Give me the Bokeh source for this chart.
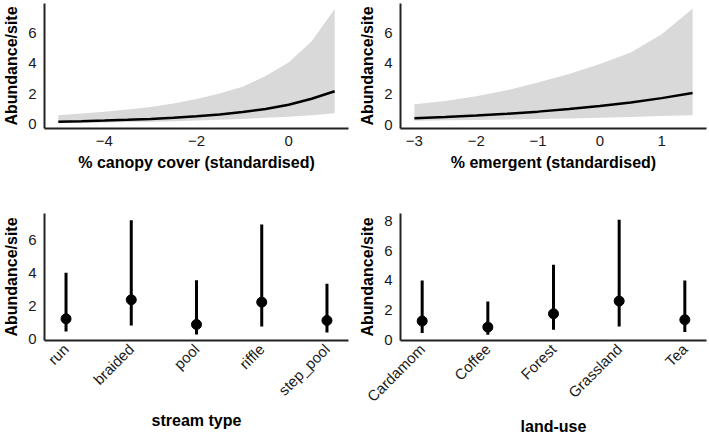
import math

from bokeh.embed import file_html
from bokeh.layouts import column, row
from bokeh.models import FixedTicker
from bokeh.plotting import figure
from bokeh.resources import INLINE

# Fitted abundance vs % canopy cover (standardised), with 95% band
canopy_x = [-5.0, -4.5, -4.0, -3.5, -3.0, -2.5, -2.0, -1.5, -1.0, -0.5, 0.0, 0.5, 1.0]
canopy_fit = [0.15, 0.18, 0.22, 0.27, 0.33, 0.41, 0.50, 0.62, 0.78, 0.99, 1.26, 1.66, 2.15]
canopy_lower = [0.07, 0.08, 0.10, 0.12, 0.15, 0.18, 0.22, 0.27, 0.33, 0.40, 0.48, 0.58, 0.70]
canopy_upper = [0.58, 0.68, 0.80, 0.95, 1.12, 1.35, 1.65, 2.00, 2.45, 3.15, 4.05, 5.45, 7.56]

# Fitted abundance vs % emergent (standardised), with 95% band
emergent_x = [-3.0, -2.5, -2.0, -1.5, -1.0, -0.5, 0.0, 0.5, 1.0, 1.5]
emergent_fit = [0.42, 0.50, 0.60, 0.71, 0.85, 1.02, 1.21, 1.45, 1.73, 2.07]
emergent_lower = [0.25, 0.28, 0.31, 0.34, 0.37, 0.41, 0.45, 0.50, 0.56, 0.62]
emergent_upper = [1.33, 1.55, 1.85, 2.25, 2.75, 3.30, 3.95, 4.70, 5.90, 7.55]

# Estimated abundance per stream type
stream_types = ["run", "braided", "pool", "riffle", "step_pool"]
stream_fit = [1.21, 2.36, 0.87, 2.22, 1.11]
stream_lower = [0.44, 0.81, 0.26, 0.75, 0.38]
stream_upper = [4.00, 7.17, 3.54, 6.91, 3.33]

# Estimated abundance per land-use
land_uses = ["Cardamom", "Coffee", "Forest", "Grassland", "Tea"]
land_fit = [1.26, 0.85, 1.75, 2.61, 1.35]
land_lower = [0.45, 0.34, 0.67, 0.90, 0.52]
land_upper = [4.00, 2.58, 5.06, 8.09, 4.00]

FONT = "Liberation Sans"
AXIS_COLOR = "#222222"
TEXT_COLOR = "#1a1a1a"
BAND_COLOR = "#d9d9d9"


def make_panel(width, height, x_range, y_range, xlabel, borders):
    left, right, top, bottom = borders
    p = figure(
        width=width, height=height,
        x_range=x_range, y_range=y_range,
        x_axis_label=xlabel, y_axis_label="Abundance/site",
        min_border_left=left, min_border_right=right,
        min_border_top=top, min_border_bottom=bottom,
        output_backend="svg", toolbar_location=None,
    )
    p.xgrid.visible = False
    p.ygrid.visible = False
    p.outline_line_color = None
    for ax in (p.xaxis[0], p.yaxis[0]):
        ax.axis_line_width = 2
        ax.axis_line_color = AXIS_COLOR
        ax.major_tick_line_color = None
        ax.minor_tick_line_color = None
        ax.major_tick_out = 0
        ax.major_tick_in = 0
        ax.minor_tick_out = 0
        ax.minor_tick_in = 0
        ax.major_label_text_font = FONT
        ax.major_label_text_font_size = "15px"
        ax.major_label_text_color = TEXT_COLOR
        ax.axis_label_text_font = FONT
        ax.axis_label_text_font_size = "16px"
        ax.axis_label_text_font_style = "bold"
        ax.axis_label_text_color = "black"
    p.yaxis[0].major_label_standoff = 8
    p.yaxis[0].axis_label_standoff = 5
    p.xaxis[0].major_label_standoff = 7
    p.xaxis[0].axis_label_standoff = 5
    return p


def trend_panel(width, x, fit, lower, upper, x_range, y_range, xticks, xlabel, borders):
    p = make_panel(width, 200, x_range, y_range, xlabel, borders)
    p.varea(x=x, y1=lower, y2=upper, fill_color=BAND_COLOR)
    p.line(x=x, y=fit, line_width=2.5, line_color="black")
    p.xaxis[0].ticker = FixedTicker(ticks=xticks)
    p.yaxis[0].ticker = FixedTicker(ticks=[0, 2, 4, 6])
    return p


def group_panel(width, names, fit, lower, upper, y_range, yticks, xlabel, borders):
    pos = [i + 1 for i in range(len(names))]
    p = make_panel(width, 237, (0.67, len(names) + 0.33), y_range, xlabel, borders)
    p.segment(x0=pos, y0=lower, x1=pos, y1=upper, line_width=3, line_color="black")
    p.scatter(x=pos, y=fit, size=10, fill_color="black", line_color="black")
    p.xaxis[0].ticker = FixedTicker(ticks=pos)
    p.xaxis[0].major_label_overrides = {i: n for i, n in zip(pos, names)}
    p.xaxis[0].major_label_orientation = math.pi / 4
    p.xaxis[0].major_label_standoff = 6
    p.xaxis[0].axis_label_standoff = 4
    p.yaxis[0].ticker = FixedTicker(ticks=yticks)
    return p


p1 = trend_panel(354, canopy_x, canopy_fit, canopy_lower, canopy_upper,
                 (-5.3, 1.3), (-0.3, 7.93), [-4, -2, 0],
                 "% canopy cover (standardised)", (41, 6, 3, 72))
p2 = trend_panel(355, emergent_x, emergent_fit, emergent_lower, emergent_upper,
                 (-3.225, 1.725), (-0.25, 7.9), [-3, -2, -1, 0, 1],
                 "% emergent (standardised)", (46, 3, 3, 72))
p3 = group_panel(354, stream_types, stream_fit, stream_lower, stream_upper,
                 (-0.1, 7.58), [0, 2, 4, 6], "stream type", (41, 6, 13, 97))
p4 = group_panel(355, land_uses, land_fit, land_lower, land_upper,
                 (-0.05, 8.51), [0, 2, 4, 6, 8], "land-use", (46, 3, 13, 97))

layout = column(row(p1, p2), row(p3, p4))

open("out.html", "w").write(file_html(layout, INLINE))
